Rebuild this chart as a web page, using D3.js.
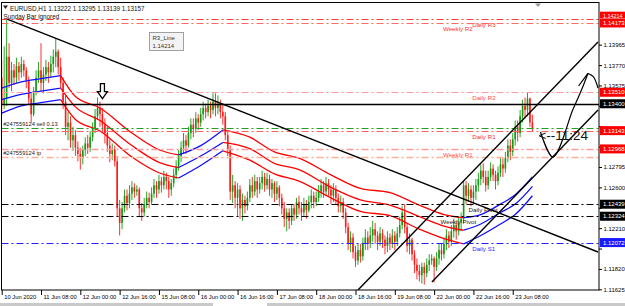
<!DOCTYPE html>
<html>
<head>
<meta charset="utf-8">
<script src="https://cdn.jsdelivr.net/npm/d3@7"></script>
<style>
html, body { margin: 0; padding: 0; background: #fff; overflow: hidden; }
svg { display: block; font-family: Tahoma, "Liberation Sans", Arial, sans-serif; }
</style>
</head>
<body>
<svg id="chart" width="625" height="306"></svg>
<script>
// EURUSD H1, bar 0 = 10 Jun 16:00, bar 216 = 23 Jun 16:00 (weekend skipped)
const firstOpen = 1.1365
const closes = [
  1.1340,1.1345,1.1385,1.1360,1.1372,1.1365,1.1376,1.1370,1.1378,1.1372,1.1362,1.1345,1.1330,1.1352,1.1365,1.1372,
  1.1360,1.1368,1.1375,1.1370,1.1378,1.1385,1.1390,1.1375,1.1360,1.1342,1.1318,1.1322,1.1305,1.1310,1.1298,1.1292,
  1.1288,1.1296,1.1302,1.1298,1.1308,1.1316,1.1328,1.1336,1.1330,1.1320,1.1312,1.1300,1.1292,1.1296,1.1285,1.1240,
  1.1226,1.1240,1.1252,1.1245,1.1254,1.1260,1.1256,1.1258,1.1240,1.1236,1.1244,1.1250,1.1246,1.1254,1.1262,1.1258,
  1.1266,1.1262,1.1270,1.1266,1.1258,1.1264,1.1272,1.1280,1.1290,1.1298,1.1305,1.1300,1.1312,1.1320,1.1316,1.1326,
  1.1322,1.1330,1.1336,1.1332,1.1338,1.1334,1.1342,1.1336,1.1340,1.1332,1.1328,1.1310,1.1296,1.1256,1.1262,1.1250,
  1.1258,1.1240,1.1248,1.1242,1.1250,1.1262,1.1256,1.1266,1.1258,1.1264,1.1270,1.1262,1.1268,1.1258,1.1264,1.1254,
  1.1260,1.1250,1.1240,1.1230,1.1236,1.1228,1.1240,1.1234,1.1246,1.1240,1.1236,1.1244,1.1238,1.1246,1.1252,1.1246,
  1.1250,1.1256,1.1262,1.1256,1.1264,1.1258,1.1252,1.1258,1.1250,1.1242,1.1246,1.1236,1.1222,1.1206,1.1212,1.1198,
  1.1190,1.1200,1.1194,1.1206,1.1212,1.1206,1.1214,1.1220,1.1214,1.1208,1.1216,1.1210,1.1204,1.1212,1.1206,1.1214,
  1.1208,1.1216,1.1224,1.1236,1.1222,1.1204,1.1210,1.1196,1.1186,1.1180,1.1176,1.1184,1.1178,1.1186,1.1190,1.1192,
  1.1184,1.1192,1.1200,1.1196,1.1206,1.1214,1.1208,1.1218,1.1224,1.1218,1.1226,1.1230,1.1262,1.1252,1.1258,1.1250,
  1.1256,1.1262,1.1268,1.1276,1.1270,1.1262,1.1270,1.1278,1.1272,1.1266,1.1274,1.1282,1.1278,1.1288,1.1300,1.1294,
  1.1306,1.1318,1.1312,1.1328,1.1338,1.1334,1.1345,1.13222,1.13157
]
const highs = [
  1.1382,1.1395,1.1421,1.1398,1.1380,1.1378,1.1384,1.1380,1.1385,1.1382,1.1375,1.1366,1.1350,1.1356,1.1372,1.1380,
  1.1398,1.1375,1.1382,1.1380,1.1386,1.1392,1.1403,1.1392,1.1384,1.1365,1.1348,1.1332,1.1328,1.1318,1.1315,1.1304,
  1.1298,1.1300,1.1308,1.1310,1.1314,1.1322,1.1335,1.1346,1.1342,1.1336,1.1326,1.1318,1.1306,1.1302,1.1300,1.1290,
  1.1248,1.1246,1.1258,1.1258,1.1262,1.1266,1.1264,1.1262,1.1260,1.1245,1.1250,1.1256,1.1255,1.1260,1.1268,1.1266,
  1.1272,1.1270,1.1276,1.1274,1.1270,1.1268,1.1278,1.1286,1.1296,1.1304,1.1312,1.1310,1.1318,1.1326,1.1326,1.1332,
  1.1330,1.1336,1.1342,1.1340,1.1344,1.1342,1.1350,1.1350,1.1348,1.1344,1.1340,1.1332,1.1314,1.1300,1.1272,1.1266,
  1.1264,1.1262,1.1254,1.1252,1.1256,1.1268,1.1270,1.1272,1.1270,1.1270,1.1276,1.1274,1.1274,1.1272,1.1268,1.1266,
  1.1266,1.1262,1.1254,1.1246,1.1240,1.1240,1.1244,1.1244,1.1250,1.1252,1.1246,1.1250,1.1248,1.1252,1.1258,1.1256,
  1.1256,1.1262,1.1268,1.1266,1.1270,1.1268,1.1262,1.1264,1.1262,1.1254,1.1252,1.1250,1.1240,1.1226,1.1218,1.1216,
  1.1204,1.1206,1.1206,1.1212,1.1220,1.1218,1.1222,1.1228,1.1226,1.1218,1.1222,1.1220,1.1214,1.1218,1.1216,1.1220,
  1.1218,1.1222,1.1232,1.1242,1.1244,1.1226,1.1216,1.1212,1.1200,1.1192,1.1186,1.1188,1.1188,1.1192,1.1196,1.1196,
  1.1194,1.1198,1.1206,1.1206,1.1212,1.1220,1.1218,1.1224,1.1230,1.1228,1.1232,1.1236,1.1266,1.1266,1.1264,1.1262,
  1.1262,1.1268,1.1274,1.1282,1.1283,1.1276,1.1276,1.1284,1.1282,1.1276,1.1280,1.1288,1.1288,1.1294,1.1306,1.1306,
  1.1312,1.1324,1.1324,1.1334,1.1344,1.1346,1.1351,1.1346,1.13295
]
const lows = [
  1.1330,1.1335,1.1338,1.1355,1.1352,1.1358,1.1360,1.1362,1.1365,1.1366,1.1355,1.1340,1.1322,1.1328,1.1348,1.1360,
  1.1352,1.1350,1.1362,1.1360,1.1365,1.1370,1.1375,1.1368,1.1355,1.1335,1.1310,1.1305,1.1298,1.1295,1.1290,1.1285,
  1.1277,1.1282,1.1290,1.1292,1.1294,1.1304,1.1312,1.1325,1.1318,1.1312,1.1302,1.1294,1.1284,1.1286,1.1280,1.1232,
  1.1214,1.1220,1.1236,1.1238,1.1240,1.1248,1.1250,1.1252,1.1232,1.1228,1.1232,1.1240,1.1240,1.1244,1.1250,1.1250,
  1.1254,1.1255,1.1258,1.1258,1.1250,1.1252,1.1260,1.1268,1.1276,1.1284,1.1292,1.1292,1.1298,1.1306,1.1308,1.1312,
  1.1315,1.1318,1.1324,1.1326,1.1328,1.1326,1.1330,1.1328,1.1330,1.1326,1.1320,1.1305,1.1290,1.1248,1.1245,1.1240,
  1.1232,1.1230,1.1228,1.1235,1.1238,1.1246,1.1250,1.1252,1.1250,1.1254,1.1258,1.1256,1.1258,1.1252,1.1250,1.1246,
  1.1248,1.1242,1.1234,1.1222,1.1218,1.1220,1.1224,1.1228,1.1230,1.1234,1.1228,1.1232,1.1230,1.1236,1.1240,1.1240,
  1.1242,1.1246,1.1250,1.1250,1.1252,1.1252,1.1244,1.1246,1.1244,1.1236,1.1236,1.1230,1.1216,1.1200,1.1198,1.1192,
  1.1184,1.1186,1.1188,1.1190,1.1200,1.1200,1.1202,1.1208,1.1206,1.1200,1.1204,1.1202,1.1196,1.1198,1.1200,1.1202,
  1.1200,1.1204,1.1212,1.1220,1.1216,1.1198,1.1196,1.1190,1.1178,1.1172,1.1170,1.1168,1.1167,1.1174,1.1180,1.1186,
  1.1169,1.1180,1.1186,1.1190,1.1192,1.1200,1.1202,1.1204,1.1212,1.1210,1.1214,1.1218,1.1226,1.1244,1.1246,1.1242,
  1.1244,1.1248,1.1256,1.1262,1.1264,1.1256,1.1258,1.1266,1.1266,1.1258,1.1262,1.1270,1.1270,1.1274,1.1284,1.1286,
  1.1290,1.1300,1.1304,1.1308,1.1322,1.1326,1.1328,1.1318,1.13139
]

// three-line trend bands (read at knots)
const maIdx = [0, 8, 16, 24, 30, 40, 53, 64, 72, 81, 90, 101, 111, 121, 134, 146, 158, 170, 180, 188, 195, 203, 209, 216]
const maTop = [1.1355,1.1361,1.1364,1.1367,1.1347,1.1336,1.1312,1.1296,1.1291,1.1300,1.1315,1.1308,1.1294,1.1288,1.1272,1.1259,1.1255,1.1243,1.1234,1.1231,1.1234,1.1244,1.1253,1.1270]
const maMid = [1.1344,1.1349,1.1352,1.1355,1.1337,1.1324,1.1300,1.1284,1.1279,1.1290,1.1303,1.1297,1.1283,1.1277,1.1260,1.1248,1.1243,1.1232,1.1223,1.1219,1.1225,1.1236,1.1244,1.1261]
const maBot = [1.1331,1.1338,1.1341,1.1344,1.1325,1.1314,1.1289,1.1274,1.1269,1.1281,1.1295,1.1286,1.1273,1.1266,1.1250,1.1237,1.1233,1.1220,1.1211,1.1206,1.1214,1.1225,1.1234,1.1252]
const maRuns = [[0, 24], [24, 72], [72, 90], [90, 188], [188, 216]]
const maRunUp = [true, false, true, false, true]

// horizontal objects
const levelNames = ['Daily R3', 'Weekly R2', 'Daily R2', 'Line 1.13400', '#247559124 sell 0.13', 'Daily R1', 'Weekly R1', '#247559124 tp', 'Daily Pivot', 'Weekly Pivot', 'Daily S1']
const levelPrices = [1.14214, 1.14173, 1.13510, 1.13400, 1.13168, 1.13143, 1.12968, 1.12890, 1.12439, 1.12324, 1.12072]

// trend lines / channel anchors [bar, price]
const trendFrom = [[2.2, 1.1421], [145.0, 1.11618], [175.1, 1.11695]]
const trendTo = [[242.7, 1.11982], [242.7, 1.13991], [242.7, 1.13340]]

// hand drawn arrow
const sketchMain = [[219.3, 1.1313], [224.4, 1.1289], [232.4, 1.1334], [234.3, 1.1344], [236.3, 1.1355], [238.6, 1.1369]]
const sketchArc = [[238.6, 1.1369], [240.8, 1.1366], [242.7, 1.1355]]
const sketchWing = [[234.8, 1.1357], [238.6, 1.1369]]

const priceTicks = [1.11625, 1.11820, 1.12015, 1.12210, 1.12405, 1.12600, 1.12795, 1.12990, 1.13185, 1.13380, 1.13575, 1.13770, 1.13965]
const timeTicks = [0, 16, 32, 48, 64, 80, 96, 112, 128, 144, 160, 176, 192, 208]
const timeLabels = ['10 Jun 2020', '11 Jun 08:00', '12 Jun 00:00', '12 Jun 16:00', '15 Jun 08:00', '16 Jun 00:00', '16 Jun 16:00',
  '17 Jun 08:00', '18 Jun 00:00', '18 Jun 16:00', '19 Jun 08:00', '22 Jun 00:00', '22 Jun 16:00', '23 Jun 08:00']

const lastBar = { o: 1.13222, h: 1.13295, l: 1.13139, c: 1.13157 }

const plotL = 1.5, plotR = 599, plotT = 2.5, plotB = 290
const axisFont = '"Liberation Sans", Arial, sans-serif'

const x = d3.scaleLinear().domain([0, 216]).range([1.7, 532.4])
const y = d3.scaleLinear().domain([1.11625, 1.13965]).range([289.3, 44.7])

const svg = d3.select('#chart')

svg.append('defs').append('clipPath').attr('id', 'plot')
  .append('rect').attr('x', plotL).attr('y', plotT).attr('width', plotR - plotL).attr('height', plotB - plotT)

svg.append('rect').attr('width', 625).attr('height', 306).attr('fill', '#fff')

const plot = svg.append('g').attr('clip-path', 'url(#plot)')

// candles
const bars = closes.map((c, i) => ({ i: i, o: i === 0 ? firstOpen : closes[i - 1], h: highs[i], l: lows[i], c: c }))
const upCol = '#129a12', dnCol = '#ff1a1a'

plot.selectAll('line.wick').data(bars).enter().append('line')
  .attr('class', 'wick')
  .attr('x1', d => x(d.i)).attr('x2', d => x(d.i))
  .attr('y1', d => y(d.h)).attr('y2', d => y(d.l))
  .attr('stroke', d => d.c >= d.o ? upCol : dnCol)
  .attr('stroke-width', 0.9)

plot.selectAll('rect.body').data(bars).enter().append('rect')
  .attr('class', 'body')
  .attr('x', d => x(d.i) - 0.8)
  .attr('width', 1.6)
  .attr('y', d => y(Math.max(d.o, d.c)))
  .attr('height', d => Math.max(0.8, Math.abs(y(d.o) - y(d.c))))
  .attr('fill', d => d.c >= d.o ? upCol : dnCol)

// trend bands
const bandLine = d3.line().x(d => x(d[0])).y(d => y(d[1])).curve(d3.curveMonotoneX)
;[maTop, maMid, maBot].forEach(series => {
  maRuns.forEach((run, r) => {
    const pts = maIdx.map((v, k) => [v, series[k]]).filter(p => p[0] >= run[0] && p[0] <= run[1])
    plot.append('path')
      .attr('d', bandLine(pts))
      .attr('fill', 'none')
      .attr('stroke', maRunUp[r] ? '#1010ff' : '#ff0000')
      .attr('stroke-width', 1.3)
  })
})

// horizontal levels
const dashDot = '7,3,2,3'
const levelStyle = {
  'Daily R3': { stroke: '#ff3a3a', dash: dashDot, w: 1, text: '#ff3030', box: '#ff0000', at: 191.5 },
  'Weekly R2': { stroke: '#ff6a6a', dash: dashDot, w: 1, text: '#ff3030', box: '#ff0000', at: 179.6 },
  'Daily R2': { stroke: '#ff9a9a', dash: dashDot, w: 1.2, text: '#ff4a4a', box: '#ff0000', at: 191.5 },
  'Line 1.13400': { stroke: '#000', dash: null, w: 1.4, text: null, box: '#000', at: 0 },
  '#247559124 sell 0.13': { stroke: '#2a9a2a', dash: dashDot, w: 1, text: '#222', box: null, at: 0.6, above: true },
  'Daily R1': { stroke: '#ff6060', dash: dashDot, w: 1.2, text: '#ff3030', box: '#ff0000', at: 191.5 },
  'Weekly R1': { stroke: '#ff9a9a', dash: dashDot, w: 1.4, text: '#ff4a4a', box: '#ff0000', at: 179.6 },
  '#247559124 tp': { stroke: '#ffb098', dash: dashDot, w: 1.4, text: '#222', box: null, at: 0.6, above: true },
  'Daily Pivot': { stroke: '#000', dash: dashDot, w: 1, text: '#222', box: '#000', at: 190 },
  'Weekly Pivot': { stroke: '#000', dash: dashDot, w: 1, text: '#222', box: '#000', at: 178.6 },
  'Daily S1': { stroke: '#2020ff', dash: dashDot, w: 1, text: '#2a2aff', box: '#1a1aff', at: 191.5 }
}

const objs = svg.append('g').attr('clip-path', 'url(#plot)')
levelNames.forEach((name, k) => {
  const st = levelStyle[name]
  const yy = Math.round(y(levelPrices[k])) + 0.5
  objs.append('line')
    .attr('x1', plotL).attr('x2', plotR).attr('y1', yy).attr('y2', yy)
    .attr('stroke', st.stroke).attr('stroke-width', st.w)
    .attr('stroke-dasharray', st.dash)
  if (st.text) {
    objs.append('text')
      .attr('x', x(st.at)).attr('y', st.above ? yy - 3 : yy + 7.5)
      .attr('font-size', name.startsWith('#') ? 5.7 : 6.2)
      .attr('fill', st.text)
      .text(name)
  }
})

// trend lines and channel
trendFrom.forEach((p, k) => {
  objs.append('line')
    .attr('x1', x(p[0])).attr('y1', y(p[1]))
    .attr('x2', x(trendTo[k][0])).attr('y2', y(trendTo[k][1]))
    .attr('stroke', '#000').attr('stroke-width', 1.4)
})

// hand drawn arrow
const sk = d3.line().x(d => x(d[0])).y(d => y(d[1])).curve(d3.curveCatmullRom)
;[sketchMain, sketchArc, sketchWing].forEach(pts => {
  objs.append('path').attr('d', sk(pts))
    .attr('fill', 'none').attr('stroke', '#000').attr('stroke-width', 1.2)
})

// candle timer
objs.append('text')
  .attr('x', x(216) + 6).attr('y', y(lastBar.c) + 11)
  .attr('font-size', 13.5).attr('font-family', axisFont)
  .attr('fill', '#111')
  .text('<--11:24')

// down arrow object
objs.append('path')
  .attr('transform', `translate(${x(41)},${y(1.1345)})`)
  .attr('d', 'M-2,-15H2V-7H5L0,0L-5,-7H-2Z')
  .attr('fill', '#fff').attr('stroke', '#000').attr('stroke-width', 1.3)

// frame
svg.append('rect')
  .attr('x', plotL).attr('y', plotT).attr('width', plotR - plotL).attr('height', plotB - plotT)
  .attr('fill', 'none').attr('stroke', '#000').attr('stroke-width', 1)

// shift marker
svg.append('path').attr('d', 'M535,3.5L541,3.5L538,7Z').attr('fill', '#9a9a9a')

// price axis: labels hidden where a price box covers them
const boxPrices = levelNames.filter(n => levelStyle[n].box).map(n => levelPrices[levelNames.indexOf(n)])
const covered = v => boxPrices.some(b => Math.abs(y(b) - y(v)) < 6.5)
const yAxis = d3.axisRight(y).tickValues(priceTicks)
  .tickFormat(v => covered(v) ? '' : d3.format('.5f')(v))
  .tickSize(3).tickPadding(1.5)
const ya = svg.append('g').attr('transform', `translate(${plotR},0)`).call(yAxis)
ya.select('.domain').remove()
ya.selectAll('text').attr('font-size', 6).attr('fill', '#000').attr('font-family', axisFont)

// price boxes (1.14214 sits partly under 1.14173, as in the terminal)
levelNames.forEach((name, k) => {
  const st = levelStyle[name]
  if (!st.box) return
  const yy = y(levelPrices[k])
  const lift = name === 'Daily R3' ? -2.5 : 0
  svg.append('rect').attr('x', plotR + 1).attr('y', yy - 4.5 + lift).attr('width', 26).attr('height', name === 'Daily R3' ? 6.5 : 9).attr('fill', st.box)
  svg.append('text').attr('x', plotR + 4).attr('y', yy + 2.2 + lift)
    .attr('font-size', name === 'Daily R3' ? 5.4 : 6).attr('fill', '#fff')
    .attr('font-family', axisFont)
    .text(d3.format('.5f')(levelPrices[k]))
})

// time axis
const xAxis = d3.axisBottom(x).tickValues(timeTicks).tickFormat((d, k) => timeLabels[k]).tickSize(5)
const xa = svg.append('g').attr('transform', `translate(0,${plotB})`).call(xAxis)
xa.select('.domain').remove()
xa.selectAll('text').attr('text-anchor', 'start').attr('x', 2).attr('y', 4.5).attr('dy', '0.71em')
  .attr('font-size', 5.8).attr('fill', '#000').attr('font-family', axisFont)

// header
svg.append('path').attr('d', 'M3,5.5L8,5.5L5.5,9Z').attr('fill', '#222')
svg.append('text').attr('x', 10).attr('y', 10.5).attr('font-size', 6.3).attr('fill', '#111')
  .attr('font-family', axisFont)
  .text(`EURUSD,H1  ${lastBar.o.toFixed(5)} ${lastBar.h.toFixed(5)} ${lastBar.l.toFixed(5)} ${lastBar.c.toFixed(5)}`)
svg.append('text').attr('x', 3.5).attr('y', 18.5).attr('font-size', 6.3).attr('fill', '#111')
  .attr('font-family', axisFont)
  .text('Sunday Bar ignored')

// tooltip
const tip = svg.append('g').attr('transform', 'translate(149.5,32.5)')
tip.append('rect').attr('width', 34).attr('height', 18).attr('fill', '#f3f3f5').attr('stroke', '#8a8a8a').attr('stroke-width', 0.8)
tip.append('text').attr('x', 3).attr('y', 7.5).attr('font-size', 6).attr('fill', '#333').attr('font-family', axisFont).text('R3_Line')
tip.append('text').attr('x', 3).attr('y', 15).attr('font-size', 6).attr('fill', '#333').attr('font-family', axisFont).text('1.14214')

// bottom window strip
svg.append('rect').attr('x', 0).attr('y', 303).attr('width', 625).attr('height', 3).attr('fill', '#c9c9c9')
svg.append('rect').attr('x', 213).attr('y', 303).attr('width', 54).attr('height', 3).attr('fill', '#fff')
</script>
</body>
</html>
